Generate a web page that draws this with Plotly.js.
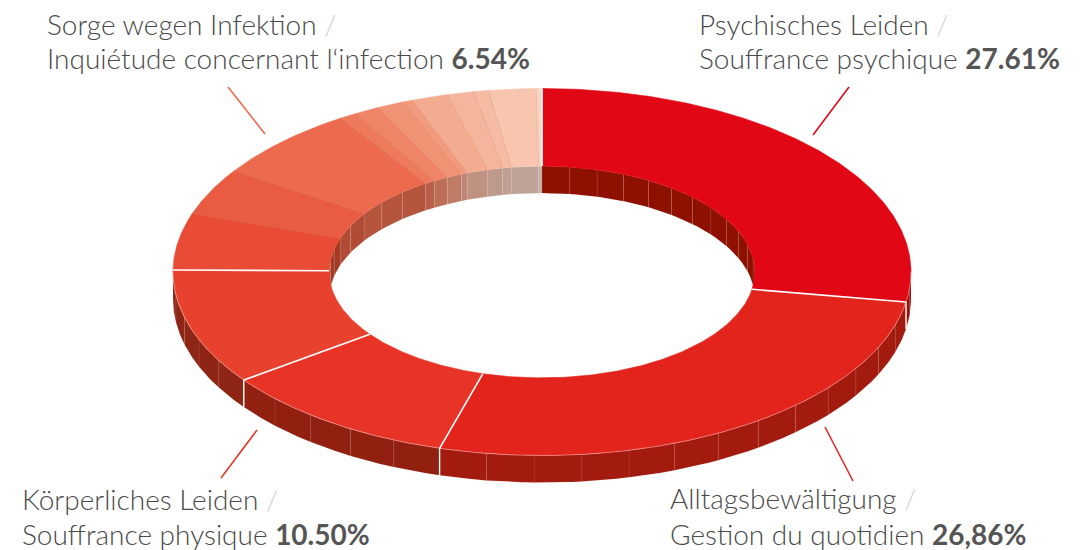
<!DOCTYPE html>
<html><head><meta charset="utf-8">
<script src="https://cdn.plot.ly/plotly-3.0.1.min.js"></script>
<style>html,body{margin:0;padding:0;background:#fff;} #chart{width:1091px;height:550px;}</style>
</head><body><div id="chart"></div>
<script>
// ---- data ----
const categories = [
  'Psychisches Leiden / Souffrance psychique',
  'Alltagsbewältigung / Gestion du quotidien',
  'Körperliches Leiden / Souffrance physique',
  'Kategorie 4', 'Kategorie 5', 'Kategorie 6',
  'Sorge wegen Infektion / Inquiétude concernant l‘infection',
  'Kategorie 8', 'Kategorie 9', 'Kategorie 10', 'Kategorie 11', 'Kategorie 12',
  'Kategorie 13', 'Kategorie 14', 'Kategorie 15', 'Kategorie 16'
];
const values = [27.61, 26.86, 10.50, 10.20, 4.97, 4.11, 6.54, 0.76, 1.11, 1.16, 0.46, 1.57, 1.18, 0.65, 2.06, 0.25];
const labelLine1 = ['Psychisches Leiden', 'Alltagsbewältigung', 'Körperliches Leiden', 'Sorge wegen Infektion'];
const labelLine2 = ['Souffrance psychique', 'Gestion du quotidien', 'Souffrance physique', 'Inquiétude concernant l‘infection'];
const labelPercent = ['27.61%', '26,86%', '10.50%', '6.54%'];

// ---- styles ----
const topColors = ['#E20714','#E3241C','#E73427','#E8412D','#E94C35','#EA5C42','#EC6A4D','#EE7A5C','#EF8566','#F09274','#F19A7D','#F4AC91','#F5B59C','#F6BBA3','#F8C5AF','#F9D3C3'];
const outerWallColors = ['#9C0E07','#A21B0E','#922010','#8F2514','#952A17','#9A3520','#A04028','#A5503A','#AA5E48','#B06C58','#B57866','#B88A7A','#BA9486','#BB9A8E','#BCA398','#C2B0A8'];
const innerWallColors = ['#8E1001','#9A1B0C','#922010','#9A2E18','#A53B24','#B04C35','#B5553D','#B86048','#BD6E57','#BE7B66','#C08574','#C09282','#BE9A8C','#BF9F92','#BDA398','#C4B0A6'];

const CX = 542, CY = 272, RX = 369, TILT = 183.5 / 369, HOLE = 0.577, DEPTH = 27;
const RI = RX * HOLE;

function pt(r, deg, dy) {
  const a = deg * Math.PI / 180;
  return [CX + r * Math.sin(a), CY - r * TILT * Math.cos(a) + (dy || 0)];
}
function arc(r, a0, a1, dy) {
  const n = Math.max(2, Math.ceil(Math.abs(a1 - a0) / 0.5) + 1);
  const xs = [], ys = [];
  for (let i = 0; i < n; i++) {
    const d = a0 + (a1 - a0) * i / (n - 1);
    const p = pt(r, d, dy); xs.push(p[0]); ys.push(p[1]);
  }
  return [xs, ys];
}
function poly(xs, ys, fill, lineColor, lineWidth) {
  return {type: 'scatter', mode: 'lines', x: xs.concat([xs[0]]), y: ys.concat([ys[0]]),
    fill: 'toself', fillcolor: fill, line: {color: lineColor, width: lineWidth},
    hoverinfo: 'skip', showlegend: false};
}
function intersect(a0, a1, b0, b1) {
  const s = Math.max(a0, b0), e = Math.min(a1, b1);
  return e > s ? [s, e] : null;
}

const total = values.reduce((s, v) => s + v, 0);
const starts = [], ends = [];
let acc = 0;
values.forEach(v => { starts.push(acc / total * 360); acc += v; ends.push(acc / total * 360); });

const innerTraces = [], outerTraces = [], topTraces = [], lineTraces = [];

function wallFacets(r, s, e, color, list) {
  const nSeg = Math.max(1, Math.ceil((e - s) / 8));
  for (let k = 0; k < nSeg; k++) {
    const f0 = s + (e - s) * k / nSeg, f1 = s + (e - s) * (k + 1) / nSeg;
    const t = arc(r, f0, f1, 0), b = arc(r, f1, f0, DEPTH);
    list.push(poly(t[0].concat(b[0]), t[1].concat(b[1]), color, 'rgba(255,255,255,0.10)', 0.6));
  }
}

values.forEach((v, i) => {
  const a0 = starts[i], a1 = ends[i];
  const fr = intersect(a0, a1, 90, 270);
  if (fr) wallFacets(RX, fr[0], fr[1], outerWallColors[i], outerTraces);
  [[0, 90], [270, 360]].forEach(r => {
    const bk = intersect(a0, a1, r[0], r[1]);
    if (bk) wallFacets(RI, bk[0], bk[1], innerWallColors[i], innerTraces);
  });
  const o = arc(RX, a0, a1, 0), n = arc(RI, a1, a0, 0);
  topTraces.push(poly(o[0].concat(n[0]), o[1].concat(n[1]), topColors[i], topColors[i], 0.6));
});

// radial boundaries
values.forEach((v, i) => {
  const a = starts[i];
  const p0 = pt(RI, a, 0), p1 = pt(RX, a, 0);
  const strong = i <= 4;
  lineTraces.push({type: 'scatter', mode: 'lines', x: [p0[0], p1[0]], y: [p0[1], p1[1]],
    line: {color: strong ? '#ffffff' : 'rgba(150,70,50,0.22)', width: strong ? 1.6 : 0.7},
    hoverinfo: 'skip', showlegend: false});
  if (strong && a > 90 && a < 270) {
    const q = pt(RX, a, DEPTH);
    lineTraces.push({type: 'scatter', mode: 'lines', x: [p1[0], q[0]], y: [p1[1], q[1]],
      line: {color: '#ffffff', width: 1.4}, hoverinfo: 'skip', showlegend: false});
  }
});
const rim = arc(RX, 90, 270, 0);
lineTraces.push({type: 'scatter', mode: 'lines', x: rim[0], y: rim[1],
  line: {color: 'rgba(255,255,255,0.35)', width: 1}, hoverinfo: 'skip', showlegend: false});

// ---- labels ----
const FONT = {family: 'Lato', size: 28, color: '#4a4a4a', weight: 300};
const labelPos = [
  {x: 698, b1: 36, b2: 70},
  {x: 669, b1: 510, b2: 546},
  {x: 21, b1: 511, b2: 546},
  {x: 46, b1: 36, b2: 70}
];
const annotations = [];
labelPos.forEach((p, i) => {
  annotations.push({xref: 'x', yref: 'y', x: p.x, y: p.b1 - 12, xanchor: 'left', yanchor: 'middle',
    showarrow: false, borderpad: 0, font: FONT,
    text: labelLine1[i] + ' <span style="color:#cfcfcf">/</span>'});
  annotations.push({xref: 'x', yref: 'y', x: p.x, y: p.b2 - 12, xanchor: 'left', yanchor: 'middle',
    showarrow: false, borderpad: 0, font: FONT,
    text: labelLine2[i] + ' <b><span style="color:#555555">' + labelPercent[i] + '</span></b>'});
});

const leaders = [
  {x0: 849, y0: 87, x1: 813, y1: 135, c: '#E30613'},
  {x0: 825, y0: 427, x1: 853, y1: 481, c: '#E42A1E'},
  {x0: 257, y0: 430, x1: 221, y1: 478, c: '#E73426'},
  {x0: 228, y0: 87, x1: 265, y1: 134, c: '#EC6A4D'}
];
const shapes = leaders.map(l => ({type: 'line', xref: 'x', yref: 'y', x0: l.x0, y0: l.y0, x1: l.x1, y1: l.y1,
  line: {color: l.c, width: 1.6}}));

const layout = {
  width: 1091, height: 550,
  margin: {l: 0, r: 0, t: 0, b: 0, pad: 0},
  paper_bgcolor: '#ffffff', plot_bgcolor: '#ffffff',
  xaxis: {range: [0, 1091], visible: false, fixedrange: true},
  yaxis: {range: [550, 0], visible: false, fixedrange: true},
  showlegend: false,
  annotations: annotations,
  shapes: shapes
};

Plotly.newPlot('chart', innerTraces.concat(outerTraces, topTraces, lineTraces), layout, {staticPlot: true, displayModeBar: false});
</script>
</body></html>
